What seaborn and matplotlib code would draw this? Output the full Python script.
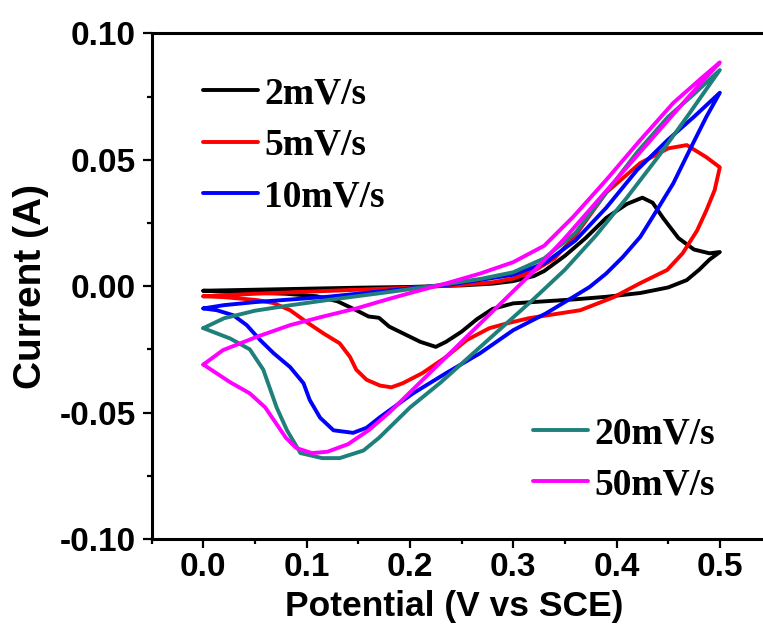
import matplotlib
matplotlib.use('Agg')
import matplotlib.pyplot as plt
import seaborn as sns
import pandas as pd
from matplotlib.ticker import AutoMinorLocator, FormatStrFormatter

# Cyclic voltammetry loops (forward scan, then reverse scan)
rates = ['2mV/s', '5mV/s', '10mV/s', '20mV/s', '50mV/s']
colors = ['#000000', '#ff0000', '#0000ff', '#1f7f7a', '#ff00ff']

potential_2 = [0.0, 0.05, 0.10, 0.15, 0.20, 0.25, 0.28, 0.30, 0.32, 0.33, 0.35, 0.37, 0.39, 0.41, 0.425,
               0.435, 0.445, 0.46, 0.475, 0.49, 0.50,
               0.49, 0.48, 0.468, 0.45, 0.423, 0.39, 0.36, 0.33, 0.30, 0.28, 0.265, 0.25, 0.235, 0.225,
               0.21, 0.195, 0.18, 0.17, 0.16, 0.148, 0.13, 0.11, 0.08, 0.04, 0.0]
current_2 = [-0.0018, -0.0014, -0.0010, -0.0006, -0.0003, 0.0003, 0.0010, 0.0020, 0.0040, 0.0060, 0.0120,
             0.0190, 0.0270, 0.0325, 0.0350, 0.0330, 0.0270, 0.0190, 0.0145, 0.0130, 0.0135,
             0.0105, 0.0065, 0.0024, -0.0005, -0.0027, -0.0042, -0.0052, -0.0060, -0.0068, -0.0090,
             -0.0130, -0.0180, -0.0220, -0.0240, -0.0220, -0.0190, -0.0160, -0.0125, -0.0120, -0.0095,
             -0.0060, -0.0040, -0.0030, -0.0025, -0.0018]

potential_5 = [0.0, 0.05, 0.10, 0.15, 0.20, 0.25, 0.28, 0.30, 0.32, 0.34, 0.36, 0.39, 0.423, 0.45, 0.468,
               0.487, 0.50,
               0.495, 0.487, 0.478, 0.464, 0.449, 0.423, 0.397, 0.365, 0.316, 0.294, 0.277, 0.255, 0.235,
               0.212, 0.193, 0.182, 0.171, 0.158, 0.148, 0.142, 0.132, 0.116, 0.10, 0.084, 0.068, 0.052,
               0.019, 0.0]
current_5 = [-0.0040, -0.0030, -0.0022, -0.0014, -0.0006, 0.0005, 0.0015, 0.0030, 0.0060, 0.0110, 0.0200,
             0.0370, 0.0487, 0.0545, 0.0558, 0.0510, 0.0470,
             0.0380, 0.0300, 0.0220, 0.0130, 0.0064, 0.0012, -0.0044, -0.0095, -0.0126, -0.0147, -0.0166,
             -0.0213, -0.0280, -0.0344, -0.0384, -0.0400, -0.0393, -0.0370, -0.0330, -0.0280, -0.0226,
             -0.0186, -0.0142, -0.0095, -0.0067, -0.0055, -0.0043, -0.0040]

potential_10 = [0.0, 0.02, 0.05, 0.12, 0.18, 0.24, 0.30, 0.33, 0.36, 0.39, 0.42, 0.45, 0.475, 0.50,
                0.487, 0.471, 0.455, 0.439, 0.423, 0.406, 0.39, 0.374, 0.358, 0.332, 0.30, 0.268, 0.235,
                0.203, 0.171, 0.158, 0.145, 0.126, 0.113, 0.103, 0.097, 0.084, 0.068, 0.055, 0.042, 0.029,
                0.013, 0.0]
current_10 = [-0.0088, -0.0075, -0.0063, -0.0042, -0.0017, 0.0007, 0.0045, 0.0090, 0.0180, 0.0310, 0.0460,
              0.0580, 0.0670, 0.0765,
              0.0670, 0.0540, 0.0407, 0.0300, 0.0195, 0.0115, 0.0050, -0.0003, -0.0043, -0.0107, -0.0174,
              -0.0265, -0.0344, -0.0424, -0.0518, -0.0560, -0.0580, -0.0570, -0.0520, -0.0450, -0.0384,
              -0.0320, -0.0265, -0.0213, -0.0154, -0.0115, -0.0095, -0.0088]

potential_20 = [0.0, 0.02, 0.05, 0.085, 0.12, 0.18, 0.23, 0.27, 0.30, 0.33, 0.36, 0.39, 0.42, 0.45, 0.475,
                0.50,
                0.47, 0.44, 0.41, 0.38, 0.35, 0.32, 0.29, 0.26, 0.23, 0.20, 0.17, 0.155, 0.132, 0.115,
                0.094, 0.081, 0.071, 0.058, 0.045, 0.026, 0.0]
current_20 = [-0.0166, -0.0127, -0.0097, -0.0075, -0.0055, -0.0023, 0.0005, 0.0030, 0.0055, 0.0110, 0.0210,
              0.0370, 0.0530, 0.0670, 0.0760, 0.0855,
              0.0680, 0.0510, 0.0350, 0.0200, 0.0065, -0.0050, -0.0160, -0.0270, -0.0380, -0.0480,
              -0.0600, -0.0650, -0.0680, -0.0680, -0.0660, -0.0570, -0.0480, -0.0330, -0.0250, -0.0207,
              -0.0166]

potential_50 = [0.0, 0.019, 0.052, 0.084, 0.116, 0.149, 0.18, 0.203, 0.235, 0.268, 0.30, 0.33, 0.358, 0.39,
                0.423, 0.455, 0.48, 0.50,
                0.47, 0.44, 0.41, 0.38, 0.35, 0.32, 0.29, 0.26, 0.23, 0.20, 0.18, 0.16, 0.14, 0.12, 0.105,
                0.09, 0.08, 0.07, 0.06, 0.045, 0.026, 0.0]
current_50 = [-0.0310, -0.0253, -0.0200, -0.0154, -0.0120, -0.0087, -0.0050, -0.0024, 0.0011, 0.0050,
              0.0095, 0.0160, 0.0274, 0.0420, 0.0578, 0.0725, 0.0815, 0.0885,
              0.0750, 0.0610, 0.0470, 0.0330, 0.0190, 0.0060, -0.0060, -0.0180, -0.0300, -0.0420,
              -0.0500, -0.0570, -0.0625, -0.0655, -0.0660, -0.0640, -0.0600, -0.0540, -0.0480, -0.0424,
              -0.0380, -0.0310]

loops = [(potential_2, current_2), (potential_5, current_5), (potential_10, current_10),
         (potential_20, current_20), (potential_50, current_50)]

sns.set_style('ticks')
plt.rcParams['font.family'] = ['Liberation Sans', 'DejaVu Sans']
plt.rcParams['font.weight'] = 'bold'
plt.rcParams['axes.unicode_minus'] = False
plt.rcParams['text.color'] = 'black'
plt.rcParams['axes.labelcolor'] = 'black'
plt.rcParams['xtick.color'] = 'black'
plt.rcParams['ytick.color'] = 'black'

fig = plt.figure(figsize=(7.63, 6.3), dpi=100)
ax = fig.add_axes([0.1988, 0.1444, 0.8123, 0.8027])

for (v, i), rate, c in zip(loops, rates, colors):
    df = pd.DataFrame({'Potential': v, 'Current': i})
    sns.lineplot(data=df, x='Potential', y='Current', sort=False, estimator=None,
                 color=c, lw=2.8, label=rate, ax=ax, solid_joinstyle='round')

ax.set_xlim(-0.05, 0.55)
ax.set_ylim(-0.10, 0.10)
ax.set_xticks([0.0, 0.1, 0.2, 0.3, 0.4, 0.5])
ax.set_yticks([-0.10, -0.05, 0.0, 0.05, 0.10])
ax.xaxis.set_major_formatter(FormatStrFormatter('%.1f'))
ax.yaxis.set_major_formatter(FormatStrFormatter('%.2f'))
ax.xaxis.set_minor_locator(AutoMinorLocator(2))
ax.yaxis.set_minor_locator(AutoMinorLocator(2))
ax.tick_params(which='major', direction='out', length=6.5, width=1.6, labelsize=24,
               labelcolor='black', color='black')
ax.tick_params(which='minor', direction='out', length=3.5, width=1.6, color='black')
ax.tick_params(axis='x', which='major', pad=2.5)
ax.tick_params(axis='y', which='major', pad=5)
ax.tick_params(top=False, right=False, which='both')
for lab in ax.get_xticklabels() + ax.get_yticklabels():
    lab.set_fontweight('bold')

for s in ['left', 'bottom', 'top', 'right']:
    ax.spines[s].set_linewidth(2.2)
    ax.spines[s].set_color('black')

ax.set_xlabel('Potential (V vs SCE)', fontsize=25.5, fontweight='bold', color='black')
ax.set_ylabel('Current (A)', fontsize=28, fontweight='bold', color='black')
ax.xaxis.set_label_coords(0.488, -0.1)
ax.yaxis.set_label_coords(-0.165, 0.5)

# two separate legends as in the original figure
handles = ax.get_lines()
ax.get_legend().remove()
leg_font = {'family': 'Liberation Serif', 'weight': 'bold', 'size': 27}
leg1 = ax.legend(handles[:3], rates[:3], loc='upper left', bbox_to_anchor=(0.083, 0.915),
                 frameon=False, prop=leg_font, handlelength=1.47, handletextpad=0.16,
                 labelspacing=0.44, borderpad=0, borderaxespad=0)
ax.add_artist(leg1)
ax.legend(handles[3:], rates[3:], loc='lower left', bbox_to_anchor=(0.615, 0.072),
          frameon=False, prop=leg_font, handlelength=1.47, handletextpad=0.16,
          labelspacing=0.44, borderpad=0, borderaxespad=0)

plt.savefig('out.png', dpi=100)
